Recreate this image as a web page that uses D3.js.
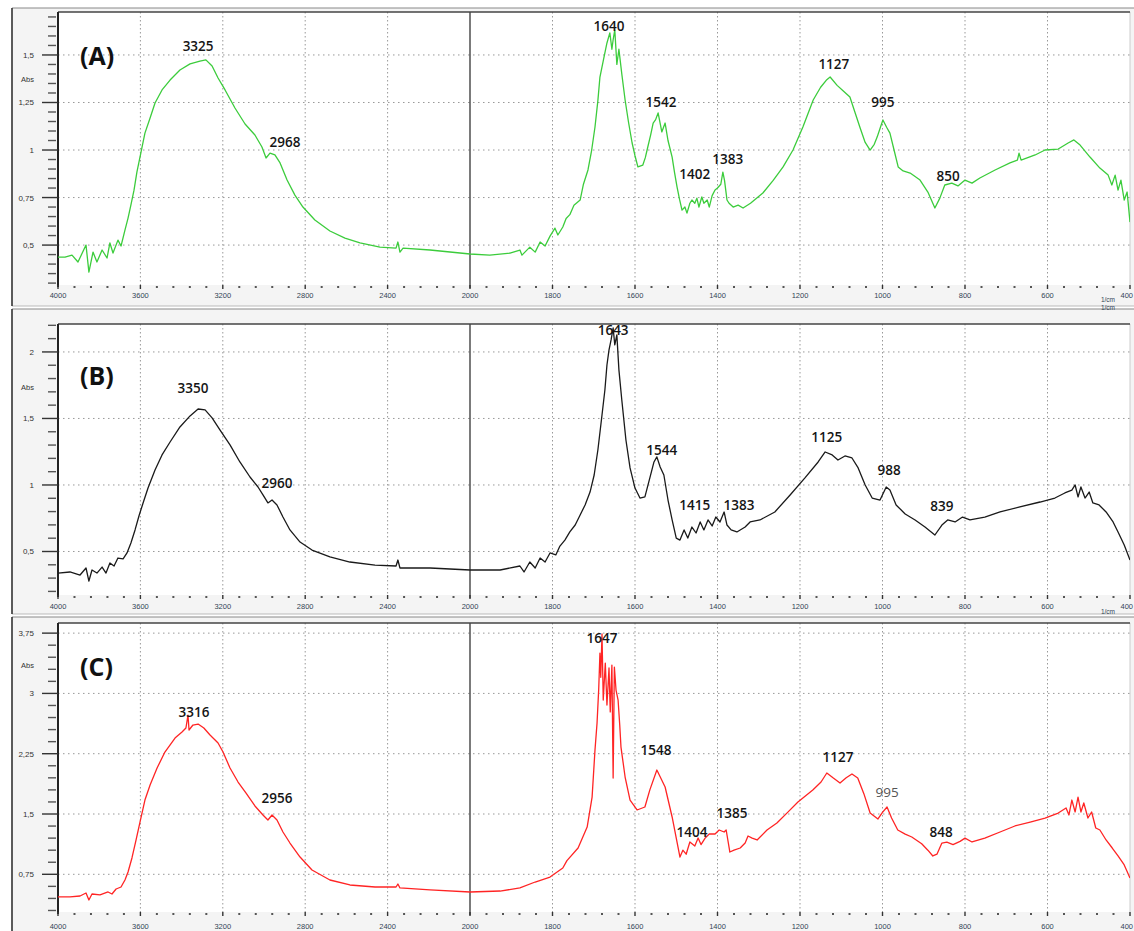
<!DOCTYPE html>
<html><head><meta charset="utf-8">
<script src="https://cdn.jsdelivr.net/npm/d3@7"></script>
<style>body{margin:0;background:#fff}svg{display:block}</style>
</head><body>
<svg id="chart" width="1134" height="931"></svg>
<script>
// ---------------- DATA ----------------
const xTicks = [4000,3600,3200,2800,2400,2000,1800,1600,1400,1200,1000,800,600,400];

const yTicksA = [0.5,0.75,1,1.25,1.5];
const yTicksB = [0.5,1,1.5,2];
const yTicksC = [0.75,1.5,2.25,3,3.75];

// Spectrum A (green)
const wnA = [4000,3966,3932,3903,3864,3850,3830,3811,3786,3762,3748,3733,3709,3694,3675,3660,3646,3631,3617,3597,
 3578,3553,3529,3495,3456,3408,3359,3311,3282,3252,3223,3189,3141,3092,3044,3010,2990,2971,2947,2922,
 2888,2850,2811,2753,2680,2607,2534,2437,2359,2350,2340,2325,2194,2000,
 1952,1903,1879,1874,1855,1842,1830,1818,1806,1794,1787,1775,1767,1758,1748,1733,1725,1714,1705,1697,1690,1685,1676,1668,1661,1656,1653,1649,1644,1639,1632,1624,1616,1607,1600,1593,1581,1575,1569,1562,1556,1550,1544,1539,1535,1527,1520,1510,1504,1498,1492,1486,1479,1474,1467,1462,1455,1450,1445,1438,1433,1425,1420,1413,1406,1400,1392,1387,1383,1377,1372,1362,1350,1338,1320,1290,1265,1241,1217,1193,1168,1150,1135,1127,1110,1095,1079,1067,1055,1042,1030,1020,1013,1005,999,990,982,972,962,950,933,909,890,873,861,849,832,817,800,783,764,727,691,673,669,664,630,606,574,550,536,521,497,473,453,444,436,429,422,414,407,400];
const absA = [0.437,0.437,0.447,0.411,0.5,0.358,0.463,0.411,0.474,0.432,0.511,0.458,0.526,0.495,0.579,0.642,0.711,0.789,0.884,0.989,
 1.089,1.168,1.247,1.316,1.368,1.421,1.453,1.468,1.474,1.442,1.379,1.316,1.221,1.137,1.079,1.016,0.958,0.984,0.974,0.932,
 0.842,0.763,0.7,0.632,0.574,0.537,0.511,0.489,0.484,0.516,0.463,0.484,0.474,0.453,
 0.447,0.458,0.474,0.447,0.489,0.463,0.516,0.495,0.547,0.589,0.553,0.595,0.64,0.66,0.71,0.737,0.82,0.895,1.0,1.121,1.26,1.384,1.48,1.563,1.616,1.53,1.58,1.632,1.45,1.53,1.4,1.263,1.15,1.037,0.97,0.911,0.921,0.96,1.016,1.08,1.142,1.16,1.195,1.14,1.095,1.142,1.05,0.963,0.88,0.805,0.74,0.684,0.7,0.668,0.72,0.737,0.72,0.747,0.7,0.753,0.72,0.737,0.7,0.76,0.79,0.8,0.82,0.884,0.84,0.737,0.72,0.7,0.71,0.695,0.72,0.774,0.84,0.911,1.0,1.121,1.263,1.33,1.37,1.384,1.34,1.31,1.279,1.2,1.121,1.04,1.0,1.03,1.068,1.12,1.158,1.12,1.089,1.0,0.911,0.89,0.879,0.842,0.779,0.695,0.747,0.816,0.826,0.811,0.842,0.826,0.853,0.895,0.932,0.947,0.984,0.947,0.974,1.0,1.005,1.037,1.053,1.026,0.963,0.905,0.868,0.816,0.868,0.789,0.842,0.737,0.779,0.621];

// Spectrum B (black)
const wnB = [4000,3942,3893,3864,3850,3835,3811,3786,3767,3748,3728,3709,3684,3665,3646,3626,3607,3587,3563,3529,
 3495,3456,3408,3359,3320,3286,3252,3214,3165,3117,3068,3029,3005,2981,2961,2937,2908,2874,2825,2767,
 2680,2583,2461,2359,2350,2340,2194,2000,
 1927,1879,1869,1855,1842,1830,1818,1806,1792,1782,1770,1758,1745,1733,1721,1709,1699,1690,1680,1673,1668,1663,1658,1653,1649,1644,1639,1632,1622,1612,1600,1588,1576,1564,1554,1547,1539,1530,1520,1510,1500,1491,1481,1472,1462,1452,1442,1433,1423,1413,1404,1394,1384,1377,1367,1353,1333,1321,1297,1261,1224,1188,1156,1139,1122,1108,1091,1074,1059,1042,1025,1006,991,982,967,945,921,897,873,856,842,824,806,788,752,715,667,618,582,558,541,533,526,519,509,499,490,475,458,441,429,414,400];
const absB = [0.338,0.346,0.323,0.376,0.278,0.361,0.338,0.383,0.338,0.414,0.391,0.451,0.444,0.489,0.564,0.662,0.767,0.865,0.977,1.113,
 1.226,1.323,1.436,1.519,1.571,1.564,1.504,1.414,1.301,1.173,1.06,0.985,0.925,0.865,0.887,0.85,0.759,0.662,0.571,0.511,
 0.459,0.421,0.398,0.391,0.436,0.376,0.376,0.361,
 0.361,0.391,0.346,0.421,0.376,0.451,0.421,0.489,0.474,0.541,0.586,0.647,0.699,0.774,0.85,0.947,1.075,1.263,1.526,1.714,1.902,2.015,2.09,2.18,2.053,2.128,1.865,1.639,1.338,1.128,0.977,0.902,0.91,1.053,1.173,1.211,1.135,1.075,0.887,0.737,0.601,0.586,0.662,0.601,0.684,0.639,0.722,0.662,0.737,0.692,0.759,0.722,0.797,0.699,0.662,0.647,0.684,0.722,0.737,0.797,0.925,1.053,1.173,1.248,1.226,1.188,1.218,1.203,1.128,1.0,0.902,0.887,0.985,0.962,0.85,0.782,0.737,0.684,0.624,0.699,0.737,0.722,0.759,0.737,0.759,0.797,0.835,0.872,0.902,0.94,0.962,1.0,0.91,0.985,0.902,0.947,0.865,0.85,0.797,0.722,0.647,0.549,0.436];

// Spectrum C (red)
const wnC = [4000,3942,3893,3864,3850,3835,3796,3757,3738,3718,3694,3675,3660,3641,3621,3602,3578,3553,3519,3481,
 3432,3398,3379,3369,3364,3345,3320,3292,3262,3223,3199,3165,3126,3087,3044,3005,2981,2961,2937,2908,
 2874,2825,2767,2680,2583,2461,2359,2350,2340,2194,2000,
 1927,1879,1842,1806,1775,1765,1738,1716,1704,1697,1692,1688,1685,1683,1680,1677,1672,1668,1663,1660,1656,1653,1650,1646,1641,1637,1634,1624,1612,1595,1576,1564,1547,1527,1510,1491,1484,1476,1467,1455,1447,1440,1430,1420,1406,1396,1384,1379,1370,1360,1345,1333,1326,1316,1304,1280,1256,1230,1205,1169,1149,1135,1120,1103,1088,1074,1060,1045,1030,1011,1000,989,978,963,945,929,905,890,878,868,856,844,829,812,800,783,752,715,679,642,606,574,555,548,541,533,526,519,512,502,493,483,473,458,443,429,414,400];
const absC = [0.468,0.468,0.48,0.517,0.43,0.505,0.493,0.53,0.505,0.567,0.592,0.679,0.779,0.953,1.177,1.4,1.674,1.861,2.072,2.271,
 2.445,2.52,2.57,2.731,2.545,2.607,2.619,2.57,2.483,2.383,2.271,2.072,1.898,1.761,1.6,1.488,1.425,1.488,1.425,1.276,
 1.139,0.965,0.803,0.679,0.617,0.592,0.592,0.629,0.58,0.555,0.53,
 0.542,0.58,0.654,0.716,0.828,0.92,1.077,1.338,1.711,2.296,2.632,3.05,3.502,3.2,3.74,2.918,3.378,2.856,3.316,2.77,3.353,1.948,3.328,3.042,2.918,2.607,2.333,1.96,1.674,1.55,1.587,1.8,2.047,1.836,1.463,0.965,1.05,1.0,1.152,1.102,1.201,1.12,1.2,1.251,1.251,1.301,1.276,1.301,1.027,1.05,1.077,1.14,1.226,1.2,1.177,1.3,1.388,1.52,1.649,1.799,1.898,2.01,1.95,1.886,1.95,1.998,1.948,1.75,1.512,1.438,1.52,1.587,1.45,1.301,1.25,1.214,1.13,1.05,0.978,1.0,1.139,1.15,1.12,1.16,1.2,1.152,1.201,1.276,1.351,1.4,1.45,1.512,1.575,1.488,1.674,1.525,1.711,1.525,1.637,1.45,1.525,1.326,1.301,1.177,1.077,0.978,0.866,0.704];

// Peak annotations: [text, wavenumber, absorbance at label baseline]
const peaksA = [["3325",3320,1.521],["2968",2898,1.016],["1640",1663,1.626],["1542",1537,1.226],["1402",1455,0.847],["1383",1375,0.926],["1127",1118,1.426],["995",999,1.226],["850",841,0.837]];
const peaksB = [["3350",3345,1.692],["2960",2937,0.977],["1643",1653,2.128],["1544",1535,1.226],["1415",1455,0.812],["1383",1348,0.812],["1125",1135,1.323],["988",984,1.075],["839",856,0.805]];
const peaksC = [["3316",3340,2.706],["2956",2937,1.637],["1647",1680,3.627],["1548",1549,2.234],["1404",1462,1.214],["1385",1365,1.45],["1127",1108,2.147],["995",989,1.711],["848",858,1.214]];

// ---------------- LAYOUT ----------------
const svg = d3.select("#chart");
const plotL = 58, plotR = 1130, outerL = 12;
const x = d3.scaleLinear().domain([4000,2000,400]).range([plotL,470,plotR]);

const panels = [
  {label:"(A)", wn:wnA, ab:absA, color:"#3ccc3c", yTicks:yTicksA, yDom:[0.29,1.726], minorStep:0.05,
   oTop:8, oBot:306, pTop:12, pBot:285, tlY:298, absY:82, letY:65, peakColors:{}, cm:[302,310]},
  {label:"(B)", wn:wnB, ab:absB, color:"#1a1a1a", yTicks:yTicksB, yDom:[0.173,2.21], minorStep:0.1,
   oTop:309, oBot:614, pTop:324, pBot:595, tlY:609, absY:390, letY:385, peakColors:{}, cm:[614]},
  {label:"(C)", wn:wnC, ab:absC, color:"#ff2424", yTicks:yTicksC, yDom:[0.281,3.876], minorStep:0.15,
   oTop:617, oBot:935, pTop:623, pBot:912, tlY:929, absY:668, letY:676, peakColors:{"995":"#555"}, cm:[]}
];
const peaksList = [peaksA, peaksB, peaksC];
const fmtY = v => String(+v.toFixed(2)).replace(".", ",");
const labelLayer = [];

panels.forEach((p, i) => {
  const g = svg.append("g");
  const y = d3.scaleLinear().domain(p.yDom).range([p.pBot, p.pTop]);

  // outer panel
  g.append("rect").attr("x", outerL).attr("y", p.oTop).attr("width", 1134 - outerL).attr("height", p.oBot - p.oTop)
    .attr("fill", "#f4f4f4");
  g.append("line").attr("x1", outerL).attr("x2", 1134).attr("y1", p.oTop).attr("y2", p.oTop).attr("stroke", "#888").attr("stroke-width", 1);
  g.append("line").attr("x1", outerL).attr("x2", 1134).attr("y1", p.oBot).attr("y2", p.oBot).attr("stroke", "#bbb").attr("stroke-width", 1);
  g.append("line").attr("x1", outerL).attr("x2", outerL).attr("y1", p.oTop).attr("y2", p.oBot).attr("stroke", "#333").attr("stroke-width", 1.6);

  // plot area
  g.append("rect").attr("x", plotL).attr("y", p.pTop).attr("width", plotR - plotL).attr("height", p.pBot - p.pTop).attr("fill", "#fff");
  g.append("line").attr("x1", plotR).attr("x2", plotR).attr("y1", p.pTop).attr("y2", p.pBot).attr("stroke", "#ccc");

  // horizontal grid
  g.selectAll(".hg").data(p.yTicks).enter().append("line")
    .attr("x1", plotL).attr("x2", plotR).attr("y1", d => y(d)).attr("y2", d => y(d))
    .attr("stroke", "#999").attr("stroke-width", 1).attr("stroke-dasharray", "1.5,3.5");
  // vertical grid
  g.selectAll(".vg").data(xTicks.filter(d => d !== 4000 && d !== 400 && d !== 2000)).enter().append("line")
    .attr("x1", d => x(d)).attr("x2", d => x(d)).attr("y1", p.pTop).attr("y2", p.pBot)
    .attr("stroke", "#999").attr("stroke-width", 1).attr("stroke-dasharray", "1.5,2.5");
  // 2000 divider
  g.append("line").attr("x1", x(2000)).attr("x2", x(2000)).attr("y1", p.pTop).attr("y2", p.pBot + 3)
    .attr("stroke", "#333").attr("stroke-width", 1.3);

  // top border + y axis line
  g.append("line").attr("x1", plotL).attr("x2", plotR).attr("y1", p.pTop).attr("y2", p.pTop).attr("stroke", "#444").attr("stroke-width", 1.6);
  g.append("line").attr("x1", plotL).attr("x2", plotL).attr("y1", p.pTop).attr("y2", p.pBot + 2).attr("stroke", "#222").attr("stroke-width", 2);

  // y ticks
  const minor = [];
  const s = p.minorStep;
  for (let k = Math.ceil(p.yDom[0] / s - 1e-9); k * s <= p.yDom[1] + 1e-9; k++) minor.push(+(k * s).toFixed(4));
  g.selectAll(".ymin").data(minor.filter(v => !p.yTicks.some(t => Math.abs(t - v) < 1e-6))).enter().append("line")
    .attr("x1", 48).attr("x2", 56).attr("y1", d => y(d)).attr("y2", d => y(d)).attr("stroke", "#555").attr("stroke-width", 1.4);
  g.selectAll(".ymaj").data(p.yTicks).enter().append("line")
    .attr("x1", 42).attr("x2", plotL).attr("y1", d => y(d)).attr("y2", d => y(d)).attr("stroke", "#333").attr("stroke-width", 1.4);
  g.selectAll(".ylab").data(p.yTicks).enter().append("text")
    .attr("x", 34).attr("y", d => y(d) + 3).attr("text-anchor", "end")
    .attr("font-family", "Liberation Sans, Arial, sans-serif").attr("font-size", 8).attr("fill", "#333")
    .text(fmtY);
  g.append("text").attr("x", 21).attr("y", p.absY).attr("font-family", "Liberation Sans, Arial, sans-serif")
    .attr("font-size", 7.5).attr("fill", "#333").text("Abs");

  // x ticks: minor dots and major marks
  const xMinor = [];
  for (let j = 0; j < xTicks.length - 1; j++) {
    const a = xTicks[j], b = xTicks[j + 1];
    for (let q = 1; q < 5; q++) xMinor.push(a + (b - a) * q / 5);
  }
  g.selectAll(".xmin").data(xMinor).enter().append("rect")
    .attr("x", d => x(d) - 1).attr("y", p.pBot + 1).attr("width", 2).attr("height", 2).attr("fill", "#555");
  g.selectAll(".xmaj").data(xTicks).enter().append("line")
    .attr("x1", d => x(d)).attr("x2", d => x(d)).attr("y1", p.pBot).attr("y2", p.pBot + 4).attr("stroke", "#333").attr("stroke-width", 1.4);
  g.selectAll(".xlab").data(xTicks).enter().append("text")
    .attr("x", d => d === 400 ? 1133 : x(d)).attr("y", p.tlY)
    .attr("text-anchor", d => d === 400 ? "end" : "middle")
    .attr("font-family", "Liberation Sans, Arial, sans-serif").attr("font-size", 7.5).attr("fill", "#345")
    .text(d => d);
  p.cm.forEach(cy => labelLayer.push(cy));

  // curve
  const clipId = "clip" + i;
  svg.append("clipPath").attr("id", clipId).append("rect")
    .attr("x", plotL).attr("y", p.pTop).attr("width", plotR - plotL).attr("height", p.pBot - p.pTop);
  const pts = p.wn.map((w, k) => [w, p.ab[k]]);
  const line = d3.line().x(d => x(d[0])).y(d => y(d[1]));
  g.append("path").datum(pts).attr("d", line).attr("fill", "none").attr("stroke", p.color)
    .attr("stroke-width", 1.3).attr("stroke-linejoin", "round").attr("clip-path", `url(#${clipId})`);

  // peak labels
  g.selectAll(".pk").data(peaksList[i]).enter().append("text")
    .attr("x", d => x(d[1])).attr("y", d => y(d[2])).attr("text-anchor", "middle")
    .attr("font-family", "Open Sans, Noto Sans, sans-serif").attr("font-size", 13.5)
    .attr("font-weight", d => p.peakColors[d[0]] ? 400 : 600)
    .attr("fill", d => p.peakColors[d[0]] || "#151515").text(d => d[0]);

  // panel letter
  g.append("text").attr("x", 80).attr("y", p.letY).attr("font-family", "Open Sans, Noto Sans, sans-serif")
    .attr("font-size", 25).attr("font-weight", 700).attr("fill", "#111").text(p.label);
});

// unit labels drawn last so no panel background covers them
svg.selectAll(".cm").data(labelLayer).enter().append("text")
  .attr("x", 1108).attr("y", d => d).attr("text-anchor", "middle")
  .attr("font-family", "Liberation Sans, Arial, sans-serif").attr("font-size", 6.5).attr("fill", "#345").text("1/cm");
</script>
</body></html>
